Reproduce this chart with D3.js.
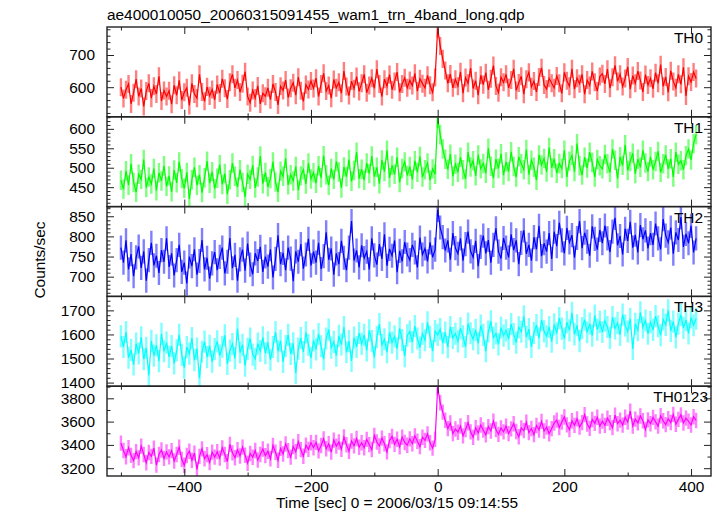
<!DOCTYPE html>
<html><head><meta charset="utf-8">
<script src="https://cdn.jsdelivr.net/npm/d3@7"></script>
<style>body{margin:0;background:#fff} text{font-family:"Liberation Sans",Arial,Helvetica,sans-serif}</style>
</head><body><svg id="c" width="717" height="516"></svg>
<script>
const titleText = "ae400010050_20060315091455_wam1_trn_4band_long.qdp";
const xLabel = "Time [sec] 0 = 2006/03/15 09:14:55";
const yLabel = "Counts/sec";
const bandNames = ["TH0", "TH1", "TH2", "TH3", "TH0123"];
const bandColors = ["#ff0000", "#00ff00", "#0000ff", "#00ffff", "#ff00ff"];
const binStart = -500, binWidth = 4;

const th0 = [
600,565,592,610,548,583,625,571,596,540,588,612,566,603,579,634,557,590,571,
589,547,606,575,621,560,584,598,543,612,579,566,640,585,556,601,573,593,561,
608,582,626,597,563,615,640,598,622,585,611,648,571,552,590,566,604,548,581,
572,598,561,610,585,545,603,590,622,568,597,614,575,631,589,556,608,593,619,
596,628,571,610,643,588,605,566,624,598,615,581,650,602,574,619,595,633,587,
612,640,583,605,628,596,656,610,571,625,603,639,592,618,647,584,610,629,598,
621,605,643,588,626,611,598,637,606,584,630,782,728,688,652,612,641,598,625,
603,648,581,630,612,659,596,620,575,637,608,645,592,626,667,604,583,631,615,
640,598,622,657,590,613,634,578,625,646,601,619,585,632,660,607,594,628,612,
598,635,612,581,646,620,603,657,594,628,611,640,578,622,605,649,615,588,633,
642,610,656,597,631,668,618,640,602,627,663,594,636,612,650,621,585,639,607,
628,595,645,612,670,603,632,584,651,618,598,640,609,662,573,634,616,647,627];

const th1 = [
468,445,492,455,510,462,437,483,470,521,449,476,458,498,441,487,466,505,452,
479,438,494,461,515,472,447,488,420,469,501,455,482,436,474,517,460,490,446,
473,508,457,485,432,469,512,478,450,495,462,425,483,470,506,448,476,530,459,
488,451,472,515,463,437,491,478,524,456,482,466,503,442,479,495,458,512,471,
487,460,505,474,531,482,455,498,470,516,489,448,502,477,521,465,493,540,472,
496,468,512,485,530,477,501,459,520,490,545,474,506,483,527,462,498,515,480,
503,470,518,488,529,476,495,512,468,497,483,628,585,548,522,496,535,478,509,
488,527,495,471,540,502,518,479,533,497,511,486,550,504,473,522,498,536,481,
515,490,541,503,476,528,510,495,547,482,519,501,468,533,507,524,489,552,500,
523,486,511,498,545,476,517,532,490,562,505,481,527,499,540,514,476,521,505,
497,534,510,488,548,519,472,528,506,559,493,516,537,485,522,501,545,512,490,
528,495,516,542,488,510,533,497,523,476,540,509,518,495,531,548,520,562,585];

const th2 = [
772,735,790,718,756,701,748,775,722,763,690,741,784,728,752,709,766,737,795,
724,758,703,741,779,712,735,683,750,726,768,705,739,791,718,747,695,733,761,
716,749,772,708,737,796,721,754,690,743,767,715,782,730,706,758,739,774,712,
750,725,768,698,744,803,731,759,716,772,745,689,763,737,781,720,755,794,728,
762,735,784,719,751,810,742,770,705,758,731,789,747,716,772,838,740,765,723,
778,746,762,718,795,753,730,781,744,805,727,769,752,790,711,764,738,786,755,
741,779,760,723,797,755,770,738,785,748,767,866,822,798,765,790,742,808,771,
757,795,740,781,812,763,748,789,726,774,802,758,791,735,779,820,762,745,796,
772,748,805,766,790,731,784,815,757,779,740,798,768,826,751,783,762,808,744,
812,776,834,790,758,821,785,803,747,796,838,771,809,787,752,825,794,767,816,
783,827,795,761,812,846,778,801,755,819,789,836,772,804,760,828,793,815,770,
808,779,832,795,768,843,802,785,822,757,810,791,848,774,806,783,826,760,795];

const th3 = [
1592,1548,1610,1503,1536,1475,1562,1521,1588,1497,1544,1430,1573,1512,1555,1489,1603,1530,1566,
1507,1552,1480,1534,1598,1515,1462,1547,1520,1585,1493,1541,1418,1528,1570,1506,1553,1487,1539,
1571,1512,1549,1596,1478,1533,1560,1501,1624,1525,1557,1470,1540,1583,1516,1499,1562,1531,1588,
1522,1567,1495,1548,1610,1530,1574,1486,1552,1598,1519,1563,1440,1541,1585,1527,1609,1556,1503,
1575,1538,1602,1551,1497,1583,1620,1545,1569,1512,1594,1558,1631,1526,1572,1490,1587,1548,1606,
1561,1598,1534,1617,1572,1505,1589,1643,1557,1580,1526,1608,1566,1592,1541,1625,1577,1510,1596,
1612,1568,1635,1583,1545,1603,1576,1650,1590,1531,1614,1598,1622,1564,1608,1547,1631,1585,1603,
1571,1626,1592,1548,1645,1605,1580,1619,1563,1637,1598,1530,1612,1654,1586,1604,1559,1628,1595,
1617,1581,1643,1602,1566,1630,1611,1675,1589,1622,1548,1606,1639,1584,1660,1613,1592,1631,1570,
1642,1605,1668,1624,1583,1651,1617,1690,1600,1638,1572,1626,1661,1609,1645,1595,1678,1620,1652,
1610,1657,1631,1586,1672,1625,1648,1598,1683,1637,1612,1665,1540,1644,1618,1692,1629,1658,1603,
1651,1619,1676,1634,1597,1662,1640,1700,1615,1653,1588,1645,1681,1627,1660,1604,1671,1638,1665];

const th0123 = [
3415,3352,3298,3376,3310,3265,3342,3289,3390,3318,3247,3335,3301,3372,3226,3318,3356,3284,3340,
3297,3351,3262,3318,3380,3276,3225,3309,3345,3268,3329,3190,3302,3366,3281,3317,3249,3338,3295,
3342,3287,3375,3318,3256,3404,3332,3290,3358,3305,3381,3311,3243,3326,3294,3352,3270,3318,3365,
3308,3346,3281,3395,3337,3268,3370,3322,3408,3351,3295,3386,3342,3428,3359,3303,3397,3362,3418,
3376,3422,3349,3395,3452,3367,3410,3338,3441,3389,3425,3362,3468,3401,3346,3434,3392,3455,3380,
3418,3376,3447,3402,3360,3481,3425,3391,3458,3410,3340,3437,3472,3405,3449,3383,3466,3421,3397,
3452,3410,3478,3431,3385,3466,3439,3495,3418,3372,3447,3895,3762,3681,3612,3540,3588,3497,3536,
3509,3562,3478,3531,3590,3512,3465,3548,3503,3571,3528,3486,3557,3519,3604,3532,3490,3545,3512,
3561,3497,3538,3582,3515,3470,3546,3523,3594,3505,3541,3488,3567,3528,3602,3519,3553,3496,3540,
3588,3613,3549,3596,3640,3572,3531,3607,3568,3624,3553,3591,3660,3579,3542,3618,3585,3637,3561,
3604,3568,3629,3591,3548,3655,3582,3613,3570,3637,3596,3690,3562,3621,3589,3648,3607,3532,3615,
3582,3636,3598,3561,3650,3607,3574,3625,3592,3662,3577,3619,3658,3588,3630,3603,3571,3642,3610];

const bandErrors = [28, 25, 30, 46, 66];
const bandValues = [th0, th1, th2, th3, th0123];
const yDomains = [[508, 787], [400, 631], [651, 874], [1385, 1758], [3133, 3904]];
const yMajorTicks = [[600, 700], [450, 500, 550, 600], [700, 750, 800, 850], [1400, 1500, 1600, 1700], [3200, 3400, 3600, 3800]];
const yMinorStep = [20, 10, 10, 20, 100];
const xDomain = [-522, 431.5];
const xMajorTicks = [-400, -200, 0, 200, 400];
const xMinorTicks = [-500, -300, -100, 100, 300];

const W = 717, H = 516;
const L = 107, R = 711, T = 27, B = 476;
const nP = bandNames.length;
const ph = (B - T) / nP;
const FS = 15.4;
const frameColor = "#222";

const svg = d3.select("#c");
svg.append("rect").attr("width", W).attr("height", H).attr("fill", "#fff");
const x = d3.scaleLinear().domain(xDomain).range([L, R]);

svg.append("text").attr("x", L).attr("y", 20).attr("font-size", FS).attr("fill", "#000").text(titleText);
svg.append("text").attr("x", 397).attr("y", 508).attr("text-anchor", "middle").attr("font-size", FS).text(xLabel);
svg.append("text").attr("transform", "translate(45,260) rotate(-90)").attr("text-anchor", "middle").attr("font-size", FS).text(yLabel);

function styleAxis(g) {
  g.select(".domain").remove();
  g.selectAll("line").attr("stroke", frameColor).attr("stroke-width", 1);
  g.selectAll("text").attr("font-size", FS).attr("font-family", '"Liberation Sans",Arial,sans-serif').attr("fill", "#000");
}

bandNames.forEach((name, i) => {
  const top = T + i * ph;
  const g = svg.append("g").attr("transform", `translate(0,${top})`);
  const y = d3.scaleLinear().domain(yDomains[i]).range([ph, 0]);
  const vals = bandValues[i];
  const pts = vals.map((v, k) => ({ t: binStart + k * binWidth, v }));
  const err = bandErrors[i];
  const col = bandColors[i];

  g.append("clipPath").attr("id", "clip" + i).append("rect").attr("x", L).attr("y", 0).attr("width", R - L).attr("height", ph);
  const dg = g.append("g").attr("clip-path", `url(#clip${i})`);
  dg.selectAll("line.err").data(pts).join("line").attr("class", "err")
    .attr("x1", d => x(d.t)).attr("x2", d => x(d.t))
    .attr("y1", d => y(d.v - err)).attr("y2", d => y(d.v + err))
    .attr("stroke", col).attr("stroke-opacity", 0.5).attr("stroke-width", 2.4);
  dg.append("path").datum(pts)
    .attr("d", d3.line().x(d => x(d.t)).y(d => y(d.v)))
    .attr("fill", "none").attr("stroke", col).attr("stroke-width", 1.2);

  const minor = d3.range(Math.ceil(yDomains[i][0] / yMinorStep[i]) * yMinorStep[i], yDomains[i][1], yMinorStep[i])
    .filter(v => !yMajorTicks[i].includes(v));

  g.append("g").attr("transform", `translate(${L},0)`)
    .call(d3.axisLeft(y).tickValues(yMajorTicks[i]).tickSize(-7).tickPadding(12).tickFormat(d3.format("d"))).call(styleAxis);
  g.append("g").attr("transform", `translate(${L},0)`)
    .call(d3.axisLeft(y).tickValues(minor).tickSize(-3.5).tickFormat("")).call(styleAxis);
  g.append("g").attr("transform", `translate(${R},0)`)
    .call(d3.axisRight(y).tickValues(yMajorTicks[i]).tickSize(-7).tickFormat("")).call(styleAxis);
  g.append("g").attr("transform", `translate(${R},0)`)
    .call(d3.axisRight(y).tickValues(minor).tickSize(-3.5).tickFormat("")).call(styleAxis);

  g.append("g").call(d3.axisTop(x).tickValues(xMajorTicks).tickSize(-7).tickFormat("")).call(styleAxis);
  g.append("g").call(d3.axisTop(x).tickValues(xMinorTicks).tickSize(-3.5).tickFormat("")).call(styleAxis);
  const last = i === nP - 1;
  g.append("g").attr("transform", `translate(0,${ph})`)
    .call(d3.axisBottom(x).tickValues(xMajorTicks).tickSize(-7).tickFormat(last ? d3.format("d") : ""))
    .call(styleAxis)
    .call(gg => gg.selectAll("text").attr("dy", null).attr("y", 16));
  g.append("g").attr("transform", `translate(0,${ph})`)
    .call(d3.axisBottom(x).tickValues(xMinorTicks).tickSize(-3.5).tickFormat("")).call(styleAxis);

  g.append("rect").attr("x", L).attr("y", 0).attr("width", R - L).attr("height", ph)
    .attr("fill", "none").attr("stroke", frameColor).attr("stroke-width", 1.4);

  g.append("text").attr("x", 703 + (name.length > 3 ? 5 : 0)).attr("y", 16).attr("text-anchor", "end")
    .attr("font-size", FS).attr("fill", "#000").text(name);
});
</script></body></html>
